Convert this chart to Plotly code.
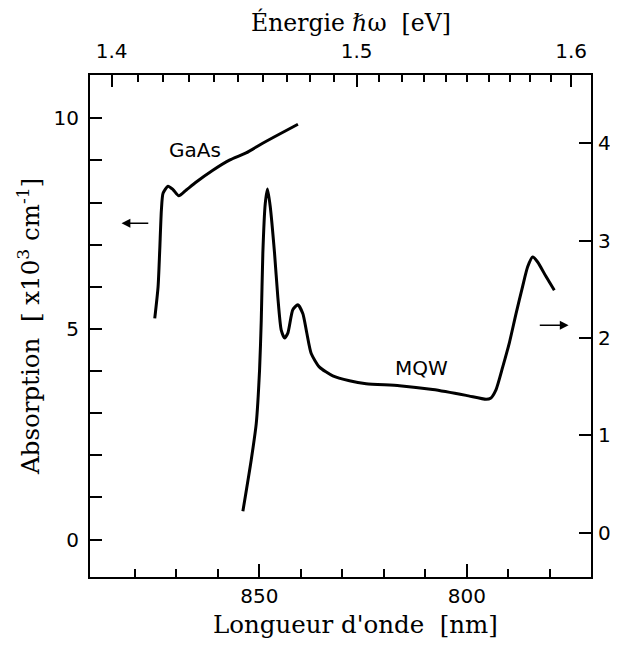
import plotly.graph_objects as go

# ---- data ----
gaas_wavelength = [875.2, 874.4, 874.0, 873.6, 873.2, 872.0, 870.8, 869.4, 867.6,
                   865.2, 861.2, 857.2, 853.2, 849.2, 845.1, 840.7]
gaas_absorption = [5.25, 6.00, 6.87, 7.82, 8.22, 8.39, 8.31, 8.16, 8.30,
                   8.49, 8.77, 9.01, 9.18, 9.41, 9.63, 9.86]

mqw_wavelength = [853.97, 851.95, 850.75, 849.95, 849.54, 849.16, 848.58, 848.03,
                  847.38, 846.34, 845.55, 844.73, 843.93, 843.14, 841.94, 840.73,
                  839.53, 838.57, 837.51, 835.51, 832.31, 828.29, 824.27, 816.25,
                  808.23, 800.19, 795.38, 794.3, 792.97, 791.38, 789.77, 788.16,
                  786.57, 785.36, 784.16, 782.96, 780.93, 778.94]
mqw_absorption = [0.22, 0.75, 1.12, 1.67, 2.18, 2.87, 3.38, 3.53,
                  3.35, 2.87, 2.42, 2.08, 2.00, 2.05, 2.29, 2.34,
                  2.25, 2.05, 1.84, 1.70, 1.61, 1.56, 1.53, 1.51,
                  1.47, 1.41, 1.37, 1.38, 1.47, 1.70, 1.95, 2.25,
                  2.53, 2.73, 2.83, 2.78, 2.63, 2.49]

wl_major = [850, 800]
wl_minor = [880, 870, 860, 840, 830, 820, 810, 790, 780]
energy_major = [1.4, 1.5, 1.6]
energy_major_labels = ["1.4", "1.5", "1.6"]
energy_minor = [1.41, 1.42, 1.43, 1.44, 1.45, 1.46, 1.47, 1.48, 1.49,
                1.51, 1.52, 1.53, 1.54, 1.55, 1.56, 1.57, 1.58, 1.59]
left_major = [0, 5, 10]
left_minor = [1, 2, 3, 4, 6, 7, 8, 9]
right_ticks = [0, 1, 2, 3, 4]
HC = 1239.84  # eV*nm

XR = [890.8, 770.1]
YR1 = [-0.89, 11.03]
YR2 = [-0.455, 4.70]

TICKFONT = dict(family="DejaVu Sans", size=20, color="black")
TITLEFONT = dict(family="DejaVu Serif", size=24.5, color="black")
TOPTITLEFONT = dict(family="DejaVu Serif", size=23.5, color="black")
LABELFONT = dict(family="DejaVu Sans", size=20, color="black")

fig = go.Figure()
fig.add_trace(go.Scatter(x=gaas_wavelength, y=gaas_absorption, mode="lines",
                         line=dict(color="black", width=3, shape="spline", smoothing=0.6),
                         xaxis="x", yaxis="y", showlegend=False))
fig.add_trace(go.Scatter(x=mqw_wavelength, y=mqw_absorption, mode="lines",
                         line=dict(color="black", width=3, shape="spline", smoothing=0.6),
                         xaxis="x", yaxis="y2", showlegend=False))
# helper (invisible) trace so the top energy axis is drawn
fig.add_trace(go.Scatter(x=gaas_wavelength, y=gaas_absorption, mode="lines",
                         line=dict(width=0, color="rgba(0,0,0,0)"), hoverinfo="skip",
                         xaxis="x2", yaxis="y", showlegend=False))

axis_common = dict(showline=True, linecolor="black", linewidth=2, ticks="inside",
                   tickcolor="black", tickwidth=2, showgrid=False, zeroline=False,
                   tickfont=TICKFONT, automargin=False)

# figure sized to fit inside the page's default 8px body margin (no overflow)
fig.update_layout(
    width=602, height=632,
    margin=dict(l=82, r=19, t=67, b=63, autoexpand=False),
    paper_bgcolor="white", plot_bgcolor="white",
    xaxis=dict(range=XR, tickmode="array", tickvals=wl_major, ticklen=13,
               ticklabelstandoff=0,
               minor=dict(tickmode="array", tickvals=wl_minor, ticklen=8, ticks="inside",
                          tickcolor="black", tickwidth=2),
               **axis_common),
    xaxis2=dict(range=XR, overlaying="x", side="top", tickmode="array",
                tickvals=[HC / e for e in energy_major], ticktext=energy_major_labels,
                ticklen=12, ticklabelstandoff=7,
                minor=dict(tickmode="array", tickvals=[HC / e for e in energy_minor],
                           ticklen=7, ticks="inside", tickcolor="black", tickwidth=2),
                **axis_common),
    yaxis=dict(range=YR1, tickmode="array", tickvals=left_major, ticklen=12,
               ticklabelstandoff=5,
               minor=dict(tickmode="array", tickvals=left_minor, ticklen=12, ticks="inside",
                          tickcolor="black", tickwidth=2),
               **axis_common),
    yaxis2=dict(range=YR2, overlaying="y", side="right", tickmode="array",
                tickvals=right_ticks, ticklen=12, ticklabelstandoff=1,
                **axis_common),
)

annotations = [
    dict(text="Longueur d'onde\u00a0\u00a0[nm]", xref="paper", yref="paper",
         x=0.529, y=-0.0956, xanchor="center", yanchor="middle", showarrow=False,
         font=TITLEFONT),
    dict(text="Énergie ℏω\u00a0\u00a0[eV]", xref="paper", yref="paper",
         x=0.521, y=1.1046, xanchor="center", yanchor="middle", showarrow=False,
         font=TOPTITLEFONT),
    dict(text="Absorption\u00a0\u00a0[ x10<sup>3</sup> cm<sup>-1</sup>]", xref="paper",
         yref="paper", x=-0.1218, y=0.5, xanchor="center", yanchor="middle",
         textangle=-90, showarrow=False, font=TITLEFONT),
    dict(text="GaAs", xref="x", yref="y", x=865.6, y=9.25, showarrow=False,
         font=LABELFONT),
    dict(text="MQW", xref="x", yref="y2", x=811.0, y=1.69, showarrow=False,
         font=LABELFONT),
    dict(text="", xref="x", yref="y", x=883.2, y=7.51, axref="x", ayref="y",
         ax=876.4, ay=7.51, showarrow=True, arrowhead=2, arrowsize=1.1,
         arrowwidth=1.6, arrowcolor="black"),
    dict(text="", xref="x", yref="y2", x=775.5, y=2.13, axref="x", ayref="y2",
         ax=782.8, ay=2.13, showarrow=True, arrowhead=2, arrowsize=1.1,
         arrowwidth=1.6, arrowcolor="black"),
]
fig.update_layout(annotations=annotations)

fig.write_html("out.html")
